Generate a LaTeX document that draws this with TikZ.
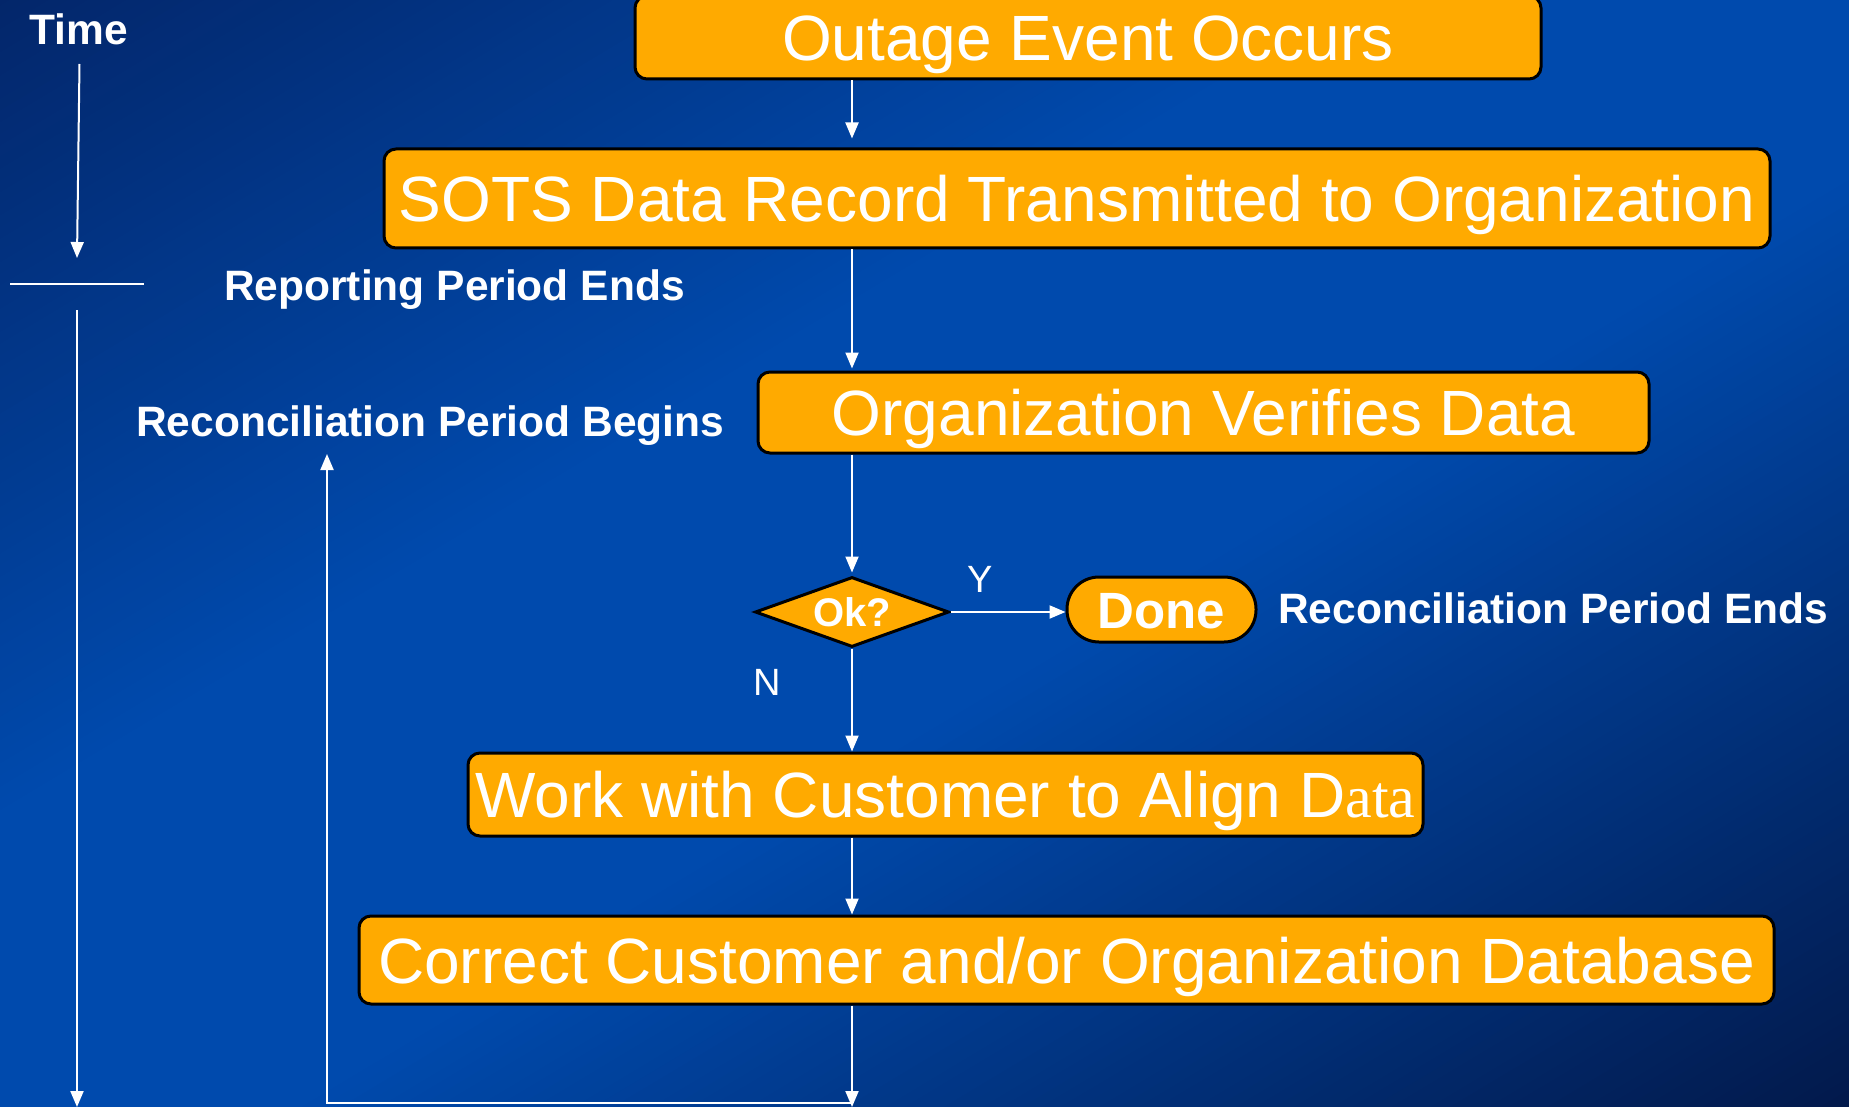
\documentclass[tikz,border=0pt]{standalone}
\usepackage{fontspec}
\setmainfont{Liberation Sans}
\newfontfamily\serifface{Liberation Serif}
\usetikzlibrary{arrows.meta,shapes.geometric}

\definecolor{bgDarkA}{HTML}{03266A}
\definecolor{bgMid}{HTML}{004AAD}
\definecolor{bgDarkB}{HTML}{02194B}
\definecolor{boxFill}{HTML}{FFAA00}

\tikzset{
  stepbox/.style={draw=black, line width=3pt, fill=boxFill, rounded corners=12pt,
    text=white, inner sep=0pt, text height=46pt, text depth=0pt,
    font=\fontsize{64}{70}\selectfont},
  decision/.style={diamond, aspect=2.77, draw=black, line width=3pt, fill=boxFill, inner sep=0pt,
    text=white, font=\bfseries\fontsize{40}{44}\selectfont, text height=29pt, text depth=0pt},
  terminal/.style={draw=black, line width=3pt, fill=boxFill, rounded corners=32pt,
    text=white, inner sep=0pt, font=\bfseries\fontsize{51}{56}\selectfont,
    text height=37pt, text depth=0pt},
  label/.style={text=white, inner sep=0pt, font=\bfseries\fontsize{42.5}{47}\selectfont},
  branch/.style={text=white, inner sep=0pt, font=\fontsize{38}{42}\selectfont},
  flow/.style={draw=white, line width=2pt, -{Triangle[length=16pt,width=13pt]}},
  plain/.style={draw=white, line width=2pt},
}

\begin{document}
\begin{tikzpicture}[x=1pt, y=-1pt]
  % page
  \useasboundingbox (0,0) rectangle (1849,1107);

  % diagonal background: dark top-left, bright band across the middle, dark bottom-right
  \begin{scope}
    \clip (0,0) rectangle (1849,1107);
    \foreach \i in {0,...,190} {
      \pgfmathsetmacro\ta{-955+10*\i}
      \pgfmathsetmacro\tm{\ta+5}
      \pgfmathsetmacro\pa{max(0,min(100,(\tm+950)/7))}
      \pgfmathsetmacro\pb{max(0,min(100,(950-\tm)/8))}
      \ifdim\tm pt<0pt
        \colorlet{bandcol}{bgMid!\pa!bgDarkA}
      \else
        \colorlet{bandcol}{bgMid!\pb!bgDarkB}
      \fi
      \pgfmathsetmacro\xa{924.5+0.514*\ta}
      \pgfmathsetmacro\ya{553.5+0.858*\ta}
      \pgfmathsetmacro\xb{924.5+0.514*(\ta+12)}
      \pgfmathsetmacro\yb{553.5+0.858*(\ta+12)}
      \fill[bandcol] (\xa+1030,\ya-617) -- (\xa-1030,\ya+617)
        -- (\xb-1030,\yb+617) -- (\xb+1030,\yb-617) -- cycle;
    }
  \end{scope}

  % main column of the flow
  \coordinate (spine) at (852,0);

  \node[stepbox, minimum width=906pt, minimum height=83pt] (outage) at (1088,37.5)
    {Outage Event Occurs};
  \node[stepbox, minimum width=1386pt, minimum height=99pt] (sots) at (1077,198.5)
    {SOTS Data Record Transmitted to Organization};
  \node[stepbox, minimum width=891pt, minimum height=81pt] (verify) at (1203.5,412.5)
    {Organization Verifies Data};
  \node[decision, minimum width=194pt, minimum height=70pt] (ok) at (852,612) {Ok?};
  \node[terminal, minimum width=189pt, minimum height=65pt] (done) at (1161.5,609.5) {Done};
  \node[stepbox, minimum width=955pt, minimum height=83pt] (work) at (945.5,794.5)
    {Work with Customer to Align D{\serifface\fontsize{60}{66}\selectfont ata}};
  \node[stepbox, minimum width=1415pt, minimum height=88pt] (correct) at (1066.5,960)
    {Correct Customer and/or Organization Database};

  % side labels
  \node[label, anchor=base west] (time) at (29,45) {Time};
  \node[label, anchor=base west] (repend) at (224,300) {Reporting Period Ends};
  \node[label, anchor=base west] (recbeg) at (136,436) {Reconciliation Period Begins};
  \node[label, anchor=base west] (recend) at (1278,623) {Reconciliation Period Ends};
  \node[branch, anchor=base] (yes) at (980,592) {Y};
  \node[branch, anchor=base west] (no) at (753,695) {N};

  % flow connectors
  \draw[flow, shorten >=9pt] (outage.south -| spine) -- (sots.north -| spine);
  \draw[flow, shorten >=2pt] (sots.south -| spine) -- (verify.north -| spine);
  \draw[flow, shorten >=3pt] (verify.south -| spine) -- (ok.north);
  \draw[flow] (ok.east) -- (ok.east -| done.west);
  \draw[flow] (ok.south) -- (work.north -| spine);
  \draw[flow] (work.south -| spine) -- (correct.north -| spine);

  % loop back to the start of reconciliation
  \coordinate (bottomtip) at (852,1107);
  \coordinate (corner) at (852,1103);
  \coordinate (looptip) at (327,454);
  \draw[flow] (correct.south -| spine) -- (bottomtip);
  \draw[flow] (corner) -| (looptip);

  % time axis
  \coordinate (timetop) at (79.5,64);
  \coordinate (timetip) at (77,258);
  \coordinate (tickL) at (10,284);
  \coordinate (tickR) at (144,284);
  \coordinate (axistop) at (77,310);
  \coordinate (axistip) at (77,1107);
  \draw[flow] (timetop) -- (timetip);
  \draw[plain] (tickL) -- (tickR);
  \draw[flow] (axistop) -- (axistip);
\end{tikzpicture}
\end{document}
